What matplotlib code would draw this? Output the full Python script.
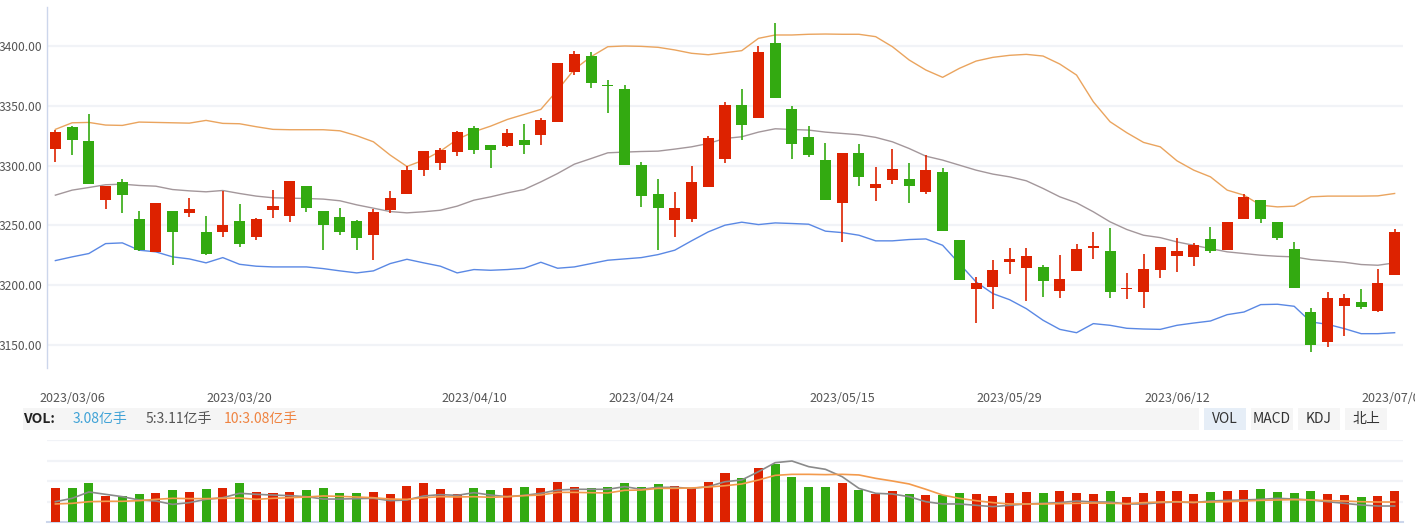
#________________Imports___________________
import numpy as np
import pandas as pd
import matplotlib
matplotlib.use('Agg')
import matplotlib.pyplot as plt
from matplotlib.patches import Rectangle

plt.rcParams['font.family'] = ['Noto Sans CJK SC', 'DejaVu Sans']

#________________Data___________________
# dias de pregão 2023/03/03 - 2023/07/03 (feriados da bolsa retirados)
feriados = ['2023-04-05', '2023-05-01', '2023-05-02', '2023-05-03', '2023-06-22', '2023-06-23']
datas = [d.strftime('%Y/%m/%d') for d in pd.bdate_range('2023-03-03', '2023-07-03')
         if d.strftime('%Y-%m-%d') not in feriados]
datas_eixo = ['2023/03/06', '2023/03/20', '2023/04/10', '2023/04/24',
              '2023/05/15', '2023/05/29', '2023/06/12', '2023/07/03']

abertura = [3314.1, 3332.2, 3320.5, 3271.4, 3286.2, 3255.2, 3227.9, 3261.9, 3260.5, 3244.3,
            3244.6, 3253.5, 3240.4, 3263.0, 3258.0, 3282.8, 3261.9, 3256.9, 3253.5, 3242.1,
            3262.7, 3276.4, 3296.5, 3302.3, 3311.6, 3331.4, 3317.1, 3316.6, 3321.3, 3325.8,
            3336.7, 3378.5, 3391.6, 3367.3, 3364.0, 3300.4, 3276.1, 3254.6, 3255.5, 3282.3,
            3305.7, 3350.6, 3340.0, 3402.5, 3347.3, 3323.8, 3304.6, 3268.9, 3310.4, 3281.4,
            3288.1, 3288.7, 3278.1, 3294.5, 3237.6, 3196.9, 3198.6, 3219.5, 3214.5, 3215.0,
            3195.2, 3212.0, 3231.2, 3228.4, 3197.0, 3194.4, 3212.8, 3224.5, 3223.7, 3238.5,
            3229.5, 3255.5, 3271.1, 3252.7, 3230.1, 3177.3, 3152.5, 3182.7, 3185.7, 3178.5,
            3208.6]
maxima = [3329.7, 3333.0, 3343.1, 3282.8, 3288.7, 3261.9, 3268.6, 3262.0, 3273.1, 3258.0,
          3278.9, 3267.8, 3255.8, 3279.5, 3287.5, 3283.0, 3262.0, 3264.4, 3254.4, 3263.6,
          3278.6, 3299.8, 3312.5, 3314.6, 3328.9, 3333.0, 3317.5, 3330.5, 3334.7, 3339.7,
          3386.0, 3395.8, 3395.0, 3371.3, 3367.1, 3302.9, 3288.7, 3277.8, 3299.6, 3324.7,
          3353.1, 3364.0, 3400.0, 3419.2, 3349.8, 3333.0, 3318.8, 3310.6, 3318.0, 3298.7,
          3313.8, 3302.1, 3308.8, 3297.9, 3237.8, 3206.7, 3220.9, 3230.9, 3230.9, 3216.7,
          3225.1, 3234.3, 3244.3, 3247.7, 3210.0, 3225.9, 3232.0, 3239.3, 3235.1, 3248.5,
          3252.9, 3276.1, 3271.5, 3253.0, 3236.0, 3180.7, 3194.1, 3192.4, 3196.6, 3213.4,
          3246.8]
minima = [3302.9, 3308.8, 3284.5, 3263.6, 3260.5, 3229.0, 3227.5, 3217.0, 3257.2, 3225.4,
          3240.4, 3232.1, 3237.6, 3256.0, 3253.0, 3261.3, 3229.5, 3242.4, 3229.5, 3221.2,
          3260.5, 3276.0, 3291.5, 3296.5, 3308.2, 3309.9, 3298.2, 3315.7, 3309.9, 3317.4,
          3336.5, 3376.0, 3365.1, 3344.2, 3300.5, 3265.5, 3229.5, 3240.4, 3253.0, 3282.0,
          3302.3, 3321.6, 3339.5, 3356.5, 3305.7, 3307.4, 3271.0, 3236.2, 3283.1, 3270.6,
          3284.8, 3268.9, 3276.4, 3245.0, 3204.0, 3168.4, 3180.1, 3209.5, 3186.8, 3190.2,
          3189.4, 3211.8, 3222.0, 3189.4, 3188.5, 3181.0, 3206.1, 3211.1, 3216.1, 3227.0,
          3229.3, 3255.0, 3252.1, 3237.6, 3197.5, 3144.2, 3148.4, 3157.6, 3180.1, 3178.0,
          3208.5]
fechamento = [3328.0, 3321.6, 3284.8, 3282.8, 3275.6, 3229.5, 3268.6, 3244.6, 3263.6, 3226.2,
              3250.2, 3234.6, 3255.2, 3266.1, 3287.0, 3264.7, 3250.5, 3244.6, 3239.6, 3261.1,
              3272.8, 3296.2, 3312.1, 3312.9, 3328.0, 3313.2, 3313.2, 3327.2, 3317.4, 3338.1,
              3385.8, 3393.3, 3369.3, 3366.9, 3300.7, 3274.7, 3264.7, 3264.4, 3286.2, 3323.0,
              3350.6, 3334.2, 3395.0, 3356.8, 3318.3, 3309.0, 3271.4, 3310.4, 3290.6, 3284.5,
              3297.0, 3283.1, 3296.2, 3245.4, 3204.4, 3201.6, 3212.5, 3221.7, 3224.2, 3203.6,
              3205.0, 3230.1, 3232.6, 3194.4, 3197.3, 3213.4, 3231.8, 3228.4, 3233.4, 3228.7,
              3252.7, 3273.6, 3255.5, 3239.6, 3197.7, 3150.0, 3189.1, 3189.1, 3181.8, 3201.6,
              3244.3]

# bandas de Bollinger
boll_sup = [3330.3, 3335.8, 3336.1, 3333.9, 3333.6, 3336.4, 3336.1, 3335.8, 3335.5, 3337.8,
            3335.3, 3335.0, 3332.5, 3330.3, 3330.0, 3330.0, 3330.0, 3329.1, 3325.0, 3319.9,
            3308.8, 3299.3, 3304.6, 3312.1, 3321.9, 3328.3, 3333.0, 3338.6, 3342.8, 3347.0,
            3363.2, 3380.5, 3391.1, 3399.4, 3400.0, 3399.7, 3398.9, 3396.7, 3393.9, 3392.7,
            3394.4, 3396.1, 3406.4, 3409.2, 3409.2, 3409.8, 3410.0, 3409.8, 3409.8, 3407.8,
            3399.4, 3388.3, 3379.9, 3373.8, 3381.3, 3387.4, 3390.5, 3392.2, 3393.0, 3391.6,
            3384.9, 3375.7, 3353.4, 3336.7, 3327.5, 3319.4, 3315.7, 3304.0, 3296.2, 3290.6,
            3279.5, 3275.3, 3266.9, 3265.5, 3266.1, 3273.9, 3274.5, 3274.5, 3274.5, 3274.7,
            3276.7]
boll_med = [3275.3, 3279.5, 3281.7, 3284.0, 3284.5, 3283.4, 3282.8, 3280.0, 3278.9, 3278.1,
            3279.2, 3276.7, 3274.5, 3273.1, 3272.8, 3272.5, 3272.0, 3270.6, 3267.2, 3264.4,
            3261.6, 3260.5, 3261.4, 3262.7, 3266.1, 3271.1, 3273.9, 3277.2, 3280.0, 3286.4,
            3293.4, 3301.2, 3305.9, 3310.7, 3311.3, 3311.8, 3312.1, 3313.8, 3315.7, 3318.5,
            3322.7, 3324.1, 3328.0, 3330.8, 3330.2, 3329.7, 3328.0, 3326.9, 3325.8, 3323.6,
            3319.9, 3314.3, 3307.9, 3304.6, 3300.4, 3296.2, 3292.9, 3290.6, 3287.3, 3280.9,
            3273.9, 3268.9, 3261.4, 3253.0, 3246.6, 3241.8, 3239.8, 3236.2, 3233.4, 3230.6,
            3227.9, 3226.5, 3225.1, 3224.2, 3223.7, 3221.4, 3220.3, 3219.2, 3217.3, 3216.7,
            3218.7]
boll_inf = [3220.6, 3223.7, 3226.5, 3234.8, 3235.4, 3229.3, 3227.9, 3223.7, 3222.0, 3218.7,
            3223.1, 3217.5, 3215.9, 3215.3, 3215.3, 3215.3, 3213.9, 3212.0, 3210.3, 3212.0,
            3218.1, 3221.7, 3218.7, 3215.9, 3210.3, 3213.1, 3212.5, 3213.1, 3214.2, 3219.2,
            3214.2, 3215.3, 3218.1, 3220.9, 3222.0, 3223.1, 3225.6, 3229.3, 3237.1, 3244.6,
            3250.2, 3252.7, 3250.7, 3252.1, 3251.6, 3251.0, 3245.2, 3244.0, 3241.8, 3237.1,
            3237.1, 3238.2, 3238.7, 3233.4, 3218.1, 3202.7, 3193.0, 3187.9, 3180.4, 3170.7,
            3163.1, 3160.3, 3167.9, 3166.5, 3164.0, 3163.4, 3163.1, 3166.5, 3168.4, 3170.1,
            3175.4, 3177.6, 3183.8, 3184.1, 3182.4, 3169.3, 3167.3, 3163.7, 3159.5, 3159.5,
            3160.3]

# volume (亿手) e médias móveis
volume = [3.32, 3.32, 3.80, 2.54, 2.54, 2.73, 2.83, 3.12, 2.93, 3.22,
          3.32, 3.80, 2.93, 2.83, 2.93, 3.12, 3.32, 2.83, 2.83, 2.93,
          2.73, 3.51, 3.80, 3.22, 2.73, 3.32, 3.12, 3.32, 3.41, 3.32,
          3.90, 3.41, 3.32, 3.41, 3.80, 3.41, 3.71, 3.51, 3.32, 3.90,
          4.78, 4.29, 5.27, 5.66, 4.39, 3.41, 3.41, 3.80, 3.12, 2.73,
          3.02, 2.73, 2.63, 2.63, 2.83, 2.73, 2.54, 2.83, 2.93, 2.83,
          3.02, 2.83, 2.73, 3.02, 2.44, 2.83, 3.02, 3.02, 2.73, 2.93,
          3.02, 3.12, 3.22, 2.93, 2.83, 3.02, 2.73, 2.63, 2.44, 2.54,
          3.02]
vol_ma5 = [1.98, 2.31, 2.93, 2.70, 2.47, 2.15, 2.05, 1.72, 1.89, 2.21,
           2.37, 2.80, 2.70, 2.63, 2.57, 2.47, 2.24, 2.24, 2.28, 2.31,
           2.08, 2.15, 2.54, 2.67, 2.60, 2.86, 2.63, 2.47, 2.60, 2.80,
           3.12, 3.19, 3.19, 3.19, 3.45, 3.19, 3.38, 3.38, 3.28, 3.45,
           3.93, 4.10, 4.91, 5.79, 5.95, 5.40, 5.14, 4.42, 3.28, 2.80,
           2.73, 2.47, 1.98, 1.76, 1.76, 1.63, 1.50, 1.63, 1.76, 1.82,
           1.89, 2.05, 1.95, 1.95, 1.76, 1.76, 1.89, 1.95, 1.89, 2.05,
           2.11, 2.15, 2.21, 2.31, 2.24, 2.15, 1.98, 1.82, 1.66, 1.56,
           1.56]
vol_ma10 = [1.76, 1.82, 1.98, 2.02, 2.02, 2.08, 2.21, 2.31, 2.28, 2.28,
            2.31, 2.34, 2.21, 2.31, 2.37, 2.44, 2.54, 2.50, 2.44, 2.37,
            2.24, 2.21, 2.37, 2.47, 2.44, 2.47, 2.41, 2.47, 2.57, 2.63,
            2.89, 2.89, 2.86, 2.83, 3.09, 3.12, 3.28, 3.28, 3.32, 3.41,
            3.54, 3.71, 4.10, 4.55, 4.65, 4.65, 4.62, 4.65, 4.59, 4.26,
            4.00, 3.71, 3.19, 2.63, 2.31, 2.08, 1.89, 1.76, 1.76, 1.76,
            1.79, 1.82, 1.85, 1.82, 1.79, 1.89, 1.95, 1.98, 1.92, 1.95,
            1.98, 2.05, 2.11, 2.15, 2.18, 2.15, 2.08, 2.05, 1.98, 1.95,
            1.95]

cabecalho_vol = [('VOL:', '#222222'), ('3.08亿手', '#3fa2d6'),
                 ('5:3.11亿手', '#555555'), ('10:3.08亿手', '#ef8340')]
botoes = ['VOL', 'MACD', 'KDJ', '北上']

#________________Plot___________________
VERMELHO = '#dd2200'
VERDE = '#33aa11'
W, H = 1415, 526


def px(x0, y0, x1, y1):
    # converte pixels da imagem (topo = 0) em fração da figura
    return [x0 / W, 1 - y1 / H, (x1 - x0) / W, (y1 - y0) / H]


fig = plt.figure(figsize=(W / 100, H / 100), dpi=100)
ax = fig.add_axes(px(47, 7, 1403, 368))
axv = fig.add_axes(px(47, 440, 1403, 522))

x = np.arange(len(datas))
o = np.array(abertura)
c = np.array(fechamento)
cores = [VERMELHO if cc > oo else VERDE for oo, cc in zip(o, c)]

# candles
ax.vlines(x, minima, maxima, colors=cores, linewidth=1.2, zorder=3)
corpo = np.maximum(np.abs(c - o), 0.9)
ax.bar(x, corpo, bottom=np.minimum(o, c), width=0.66, color=cores, linewidth=0, zorder=4)

# Bollinger
ax.plot(x, boll_sup, color='#eaa45e', linewidth=1.0, zorder=2)
ax.plot(x, boll_med, color='#a3979b', linewidth=1.0, zorder=2)
ax.plot(x, boll_inf, color='#5a88e4', linewidth=1.0, zorder=2)

ax.set_xlim(-0.5, 80.5)
ax.set_ylim(3130.8, 3432.6)
niveis = [3150, 3200, 3250, 3300, 3350, 3400]
ax.set_yticks(niveis)
ax.set_yticklabels(['%.2f' % v for v in niveis])
ax.grid(axis='y', color='#f1f3f7', linewidth=1.6, zorder=0)
ax.tick_params(axis='y', length=0, pad=3.5, labelsize=8.7, labelcolor='#555555')
pos_eixo = [datas.index(d) for d in datas_eixo]
ax.set_xticks(pos_eixo)
ax.set_xticklabels(datas_eixo)
ax.tick_params(axis='x', length=0, pad=17, labelsize=9, labelcolor='#555555')
for s in ['top', 'right', 'bottom']:
    ax.spines[s].set_visible(False)
ax.spines['left'].set_color('#ccd6eb')
ax.spines['left'].set_linewidth(1)

# volume
axv.bar(x, volume, width=0.54, color=cores, linewidth=0, zorder=3)
axv.plot(x, vol_ma5, color='#8a8a8a', linewidth=1.2, zorder=4)
axv.plot(x, vol_ma10, color='#f39a4c', linewidth=1.2, zorder=4)
axv.set_xlim(-0.5, 80.5)
axv.set_ylim(0, 8)
axv.set_yticks([2, 4, 6, 8])
axv.grid(axis='y', color='#f1f3f7', linewidth=1.6, zorder=0)
axv.tick_params(length=0, labelleft=False, labelbottom=False)
for s in ['top', 'right', 'left']:
    axv.spines[s].set_visible(False)
axv.spines['bottom'].set_color('#ccd6eb')
axv.spines['bottom'].set_linewidth(1.5)

# barra de cabeçalho do volume
faixa = px(23, 408, 1199, 430)
fig.add_artist(Rectangle(faixa[:2], faixa[2], faixa[3], transform=fig.transFigure,
                         color='#f5f5f5', linewidth=0, zorder=0))
x_txt = [23, 73, 146, 224]
for (t, cor), xt in zip(cabecalho_vol, x_txt):
    fig.text(xt / W, 1 - 419 / H, t, color=cor, fontsize=10, va='center', ha='left',
             fontweight='bold' if t == 'VOL:' else 'normal')

for k, b in enumerate(botoes):
    x0 = 1204 + 47 * k
    r = px(x0, 408, x0 + 42, 430)
    fig.add_artist(Rectangle(r[:2], r[2], r[3], transform=fig.transFigure,
                             color='#e6eef7' if k == 0 else '#f5f5f5', linewidth=0, zorder=0))
    fig.text((x0 + 21) / W, 1 - 419 / H, b, color='#333333', fontsize=10, va='center', ha='center')

fig.savefig('out.png', dpi=100)
